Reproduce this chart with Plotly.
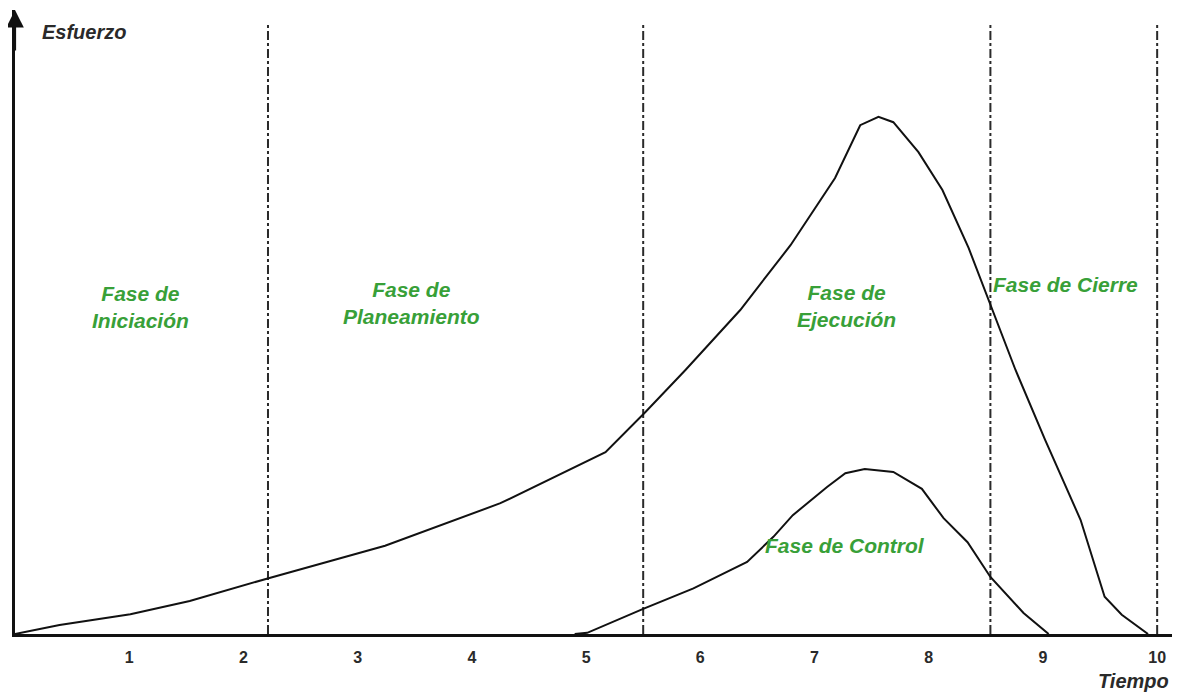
import plotly.graph_objects as go

# Curva de esfuerzo total (tiempo, esfuerzo)
effort_t = [0.0, 0.39, 1.01, 1.53, 2.22, 3.24, 4.25, 5.17, 5.52, 5.87, 6.35, 6.79, 7.18, 7.40, 7.56,
            7.69, 7.91, 8.12, 8.35, 8.54, 8.76, 9.02, 9.33, 9.54, 9.69, 9.92]
effort_v = [0.0, 1.5, 3.3, 5.5, 9.3, 14.7, 21.8, 30.3, 37.0, 44.0, 54.0, 64.8, 76.0, 84.8, 86.2,
            85.3, 80.3, 74.0, 64.3, 54.8, 44.0, 32.3, 19.0, 6.2, 3.2, 0.0]

# Curva de la fase de control
control_t = [4.90, 5.01, 5.50, 5.94, 6.41, 6.64, 6.81, 7.11, 7.27, 7.44, 7.69, 7.94, 8.13, 8.34, 8.54, 8.83, 9.05]
control_v = [0.0, 0.2, 4.2, 7.6, 12.0, 16.2, 19.8, 24.5, 26.8, 27.5, 27.0, 24.2, 19.3, 15.3, 9.5, 3.5, 0.0]

# Límites de fases
boundaries = [2.215, 5.50, 8.54, 10.0]

# Etiquetas de fases
phase_labels = ["Fase de<br>Iniciación", "Fase de<br>Planeamiento", "Fase de<br>Ejecución",
                "Fase de Cierre", "Fase de Control"]
phase_x = [1.10, 3.47, 7.28, 9.20, 7.27]
phase_y = [54.5, 55.2, 54.7, 58.3, 14.8]

tick_vals = [1, 2, 3, 4, 5, 6, 7, 8, 9, 10]
tick_text = ["1", "2", "3", "4", "5", "6", "7", "8", "9", "10"]

FONT = "Liberation Sans, Arial, sans-serif"
GREEN = "#38a038"

fig = go.Figure()

for b in boundaries:
    fig.add_trace(go.Scatter(x=[b, b], y=[0, 101.5], mode="lines",
                             line=dict(color="#2a2a2a", width=2, dash="dashdot"),
                             hoverinfo="skip", showlegend=False))

fig.add_trace(go.Scatter(x=effort_t, y=effort_v, mode="lines",
                         line=dict(color="#111111", width=2), showlegend=False))
fig.add_trace(go.Scatter(x=control_t, y=control_v, mode="lines",
                         line=dict(color="#111111", width=2), showlegend=False))

for txt, x, y in zip(phase_labels, phase_x, phase_y):
    fig.add_annotation(x=x, y=y, text=f"<b><i>{txt}</i></b>", showarrow=False,
                       font=dict(family=FONT, size=21, color=GREEN), align="center")

# Flecha del eje Y
fig.add_annotation(x=0, y=104, ax=0, ay=97, xref="x", yref="y", axref="x", ayref="y",
                   showarrow=True, arrowhead=2, arrowsize=1.6, arrowwidth=2.2,
                   arrowcolor="#111111", text="")

fig.add_annotation(x=0.22, y=100.3, text="<b><i>Esfuerzo</i></b>", showarrow=False,
                   xanchor="left", font=dict(family=FONT, size=20, color="#2a2a2a"))
fig.add_annotation(x=0.992, y=-0.076, xref="paper", yref="paper",
                   text="<b><i>Tiempo</i></b>", showarrow=False,
                   xanchor="right", yanchor="middle",
                   font=dict(family=FONT, size=20, color="#2a2a2a"))

# The page body has an 8px default margin; the figure is sized to compensate.
fig.update_layout(
    width=1172, height=684,
    margin=dict(l=7, r=0, t=2, b=58),
    plot_bgcolor="white", paper_bgcolor="white",
    xaxis=dict(range=[0, 10.2], showgrid=False, zeroline=False, showline=True,
               linecolor="#111111", linewidth=2.5, tickvals=tick_vals, ticktext=tick_text,
               ticks="", ticklabelstandoff=7, automargin=False,
               tickfont=dict(family=FONT, size=16, color="#2a2a2a", weight="bold")),
    yaxis=dict(range=[0, 104], showgrid=False, zeroline=False, showline=True,
               linecolor="#111111", linewidth=2.5, showticklabels=False, ticks="",
               automargin=False),
)

fig.write_html("out.html")
